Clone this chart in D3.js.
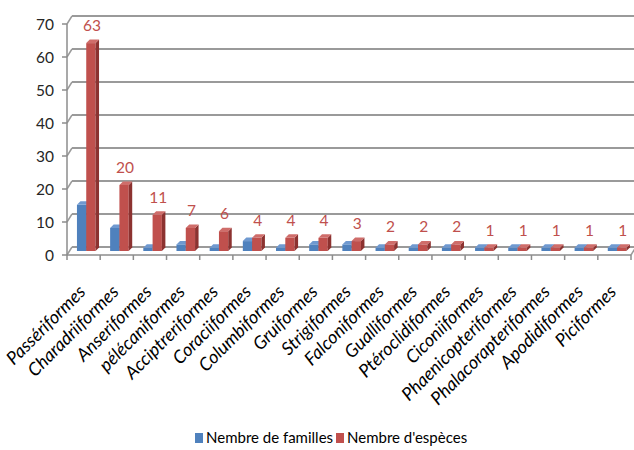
<!DOCTYPE html>
<html>
<head>
<meta charset="utf-8">
<script src="https://cdn.jsdelivr.net/npm/d3@7"></script>
<style>
  html, body { margin: 0; padding: 0; background: #fff; }
  svg { display: block; }
</style>
</head>
<body>
<svg id="chart" width="634" height="450"></svg>
<script>
const categories = ["Passériformes","Charadriiformes","Anseriformes","pélécaniformes","Acciptreriformes","Coraciiformes","Columbiformes","Gruiformes","Strigiformes","Falconiformes","Gualliformes","Ptéroclidiformes","Ciconiiformes","Phaenicopteriformes","Phalacorapteriformes","Apodidiformes","Piciformes"];
const familles = [14,7,1,2,1,3,1,2,2,1,1,1,1,1,1,1,1];
const especes  = [63,20,11,7,6,4,4,4,3,2,2,2,1,1,1,1,1];
const yTicks = [0,10,20,30,40,50,60,70];
const seriesNames = ["Nembre de familles","Nembre d'espèces"];

const svg = d3.select("#chart");
const font = "Lato, 'Open Sans', sans-serif";

const x = d3.scaleBand().domain(categories).range([67, 631]);
const yFront = d3.scaleLinear().domain([0,70]).range([255, 24]);
const yBar = d3.scaleLinear().domain([0,70]).range([251, 20]);
const wall = {dx: 5, dy: -8};
const depth = {dx: 3.5, dy: -3.5};
const gridColor = "#9a9a9a";

const g = svg.append("g");
yTicks.forEach(v => {
  const yf = yFront(v), yb = yf + wall.dy;
  g.append("line").attr("x1", 67 + wall.dx).attr("x2", 634).attr("y1", yb).attr("y2", yb)
    .attr("stroke", gridColor).attr("stroke-width", 1.8);
  g.append("line").attr("x1", 67).attr("x2", 67 + wall.dx).attr("y1", yf).attr("y2", yb)
    .attr("stroke", gridColor).attr("stroke-width", 1.5);
});
g.append("line").attr("x1", 631).attr("x2", 631 + wall.dx).attr("y1", yFront(0)).attr("y2", yFront(0) + wall.dy)
  .attr("stroke", gridColor).attr("stroke-width", 1.5);

g.append("line").attr("x1", 67).attr("x2", 67).attr("y1", yFront(70)).attr("y2", yFront(0))
  .attr("stroke", "#8c8c8c").attr("stroke-width", 1.5);
yTicks.forEach(v => {
  g.append("line").attr("x1", 62).attr("x2", 67).attr("y1", yFront(v)).attr("y2", yFront(v))
    .attr("stroke", "#8c8c8c").attr("stroke-width", 1.5);
  g.append("text").attr("x", 54).attr("y", yFront(v) + 1).attr("dy", "0.35em")
    .attr("text-anchor", "end").attr("font-family", font).attr("font-size", 15.5)
    .attr("fill", "#262626").text(v);
});

g.append("line").attr("x1", 67).attr("x2", 631).attr("y1", yFront(0)).attr("y2", yFront(0))
  .attr("stroke", "#8c8c8c").attr("stroke-width", 1.5);
d3.range(categories.length + 1).forEach(i => {
  const xx = 67 + i * x.bandwidth();
  g.append("line").attr("x1", xx).attr("x2", xx).attr("y1", yFront(0)).attr("y2", yFront(0) + 5)
    .attr("stroke", "#8c8c8c").attr("stroke-width", 1.5);
});

const bw = x.bandwidth();
const barW = bw * 0.28;
const colors = [
  {front: "#4F81BD", top: "#6F99D0", side: "#3B6497"},
  {front: "#C0504D", top: "#CF6D6A", side: "#8C3230"}
];
function drawBar(x0, v, col) {
  const yb = yBar(0), yt = yBar(v);
  const gg = svg.append("g");
  gg.append("rect").attr("x", x0).attr("y", yt).attr("width", barW).attr("height", yb - yt).attr("fill", col.front);
  gg.append("polygon").attr("points", [
    [x0 + barW, yb], [x0 + barW + depth.dx, yb + depth.dy], [x0 + barW + depth.dx, yt + depth.dy], [x0 + barW, yt]
  ].map(p => p.join(",")).join(" ")).attr("fill", col.side);
  gg.append("polygon").attr("points", [
    [x0, yt], [x0 + depth.dx, yt + depth.dy], [x0 + barW + depth.dx, yt + depth.dy], [x0 + barW, yt]
  ].map(p => p.join(",")).join(" ")).attr("fill", col.top);
}
categories.forEach((c, i) => {
  const bx = x(c) + bw * 0.30;
  drawBar(bx, familles[i], colors[0]);
  drawBar(bx + barW, especes[i], colors[1]);
  svg.append("text").attr("x", bx + barW * 1.5 + 1).attr("y", yBar(especes[i]) - 12)
    .attr("text-anchor", "middle").attr("font-family", font).attr("font-size", 15.5)
    .attr("fill", "#C0504D").text(especes[i]);
});

categories.forEach(c => {
  const cx = x(c) + bw / 2;
  svg.append("text").attr("transform", `translate(${cx + 3},${293}) rotate(-45)`)
    .attr("text-anchor", "end").attr("font-family", font).attr("font-style", "italic")
    .attr("font-size", 18).attr("fill", "#000").text(c);
});

const legend = svg.append("g");
const legItems = [
  {name: seriesNames[0], color: colors[0].front, x: 195},
  {name: seriesNames[1], color: colors[1].front, x: 336}
];
legItems.forEach(it => {
  legend.append("rect").attr("x", it.x).attr("y", 433).attr("width", 8).attr("height", 10).attr("fill", it.color);
  legend.append("text").attr("x", it.x + 11).attr("y", 438).attr("dy", "0.35em")
    .attr("font-family", font).attr("font-size", 15).attr("fill", "#000").text(it.name);
});
</script>
</body>
</html>
